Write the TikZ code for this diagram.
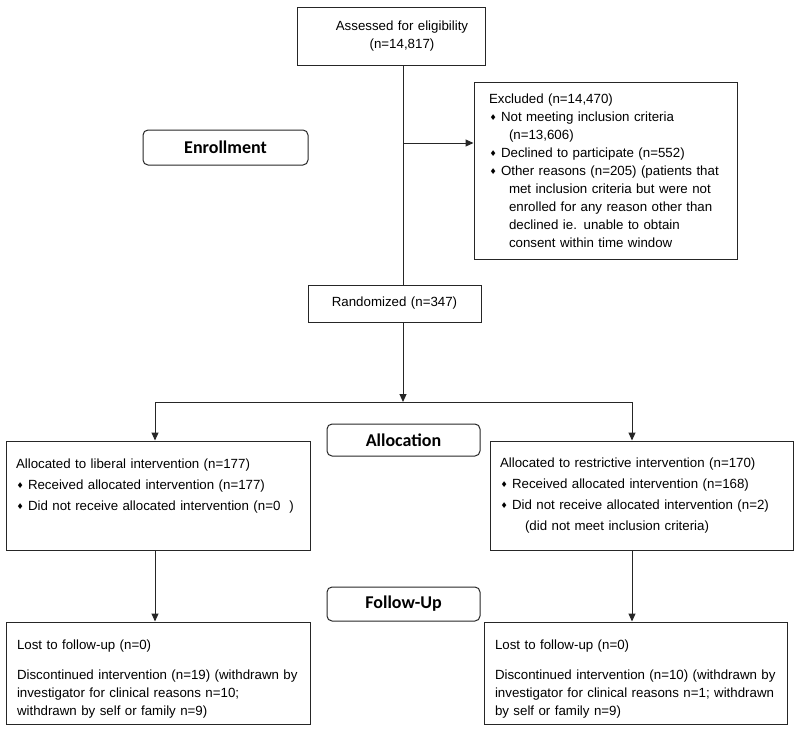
\documentclass[tikz,border=0pt]{standalone}
\usepackage{fontspec}
\setmainfont{Liberation Sans}
\newfontfamily\phasefont{Carlito}
\newfontfamily\symfont{DejaVu Sans}
\usetikzlibrary{arrows.meta}

\newcommand{\bul}{\raisebox{1.2pt}{\symfont\fontsize{8}{8}\selectfont ♦}}
\newcommand{\itm}{\makebox[12pt][l]{\hspace{0.5pt}\bul}}

\begin{document}
\begin{tikzpicture}[x=1pt, y=-1pt,
    box/.style={draw=black!85, line width=1pt, inner sep=0pt, align=left,
        font=\fontsize{13.3}{18}\selectfont},
    pad/.style={execute at begin node={\leftskip=#1}},
    mid/.style={execute at begin node={\leftskip=#1 plus 1fil\rightskip=0pt plus 1fil\parfillskip=0pt}},
    phase/.style={draw=black!85, line width=1pt, rounded corners=5pt, inner sep=0pt,
        font=\phasefont\bfseries\fontsize{18}{20}\selectfont},
    line/.style={draw=black!85, line width=1pt},
    arr/.style={line, -{Triangle[length=8pt, width=7pt]}}]

    \useasboundingbox (0,0) rectangle (800,731);

    %boxes
    \node[box, text width=188pt, minimum height=58pt, mid=22pt]
        (assess) at (391,36) {Assessed for eligibility\\(n=14,817)};
    \node[box, text width=263pt, minimum height=177pt, pad=15pt] (excl) at (605.5,170.5)
        {Excluded (n=14,470)\\
         \itm Not meeting inclusion criteria\\
         \hspace*{20pt}(n=13,606)\\
         \itm Declined to participate (n=552)\\
         \itm Other reasons (n=205) (patients that\\
         \hspace*{20pt}met inclusion criteria but were not\\
         \hspace*{20pt}enrolled for any reason other than\\
         \hspace*{20pt}declined ie. unable to obtain\\
         \hspace*{20pt}consent within time window};
    \node[box, text width=173pt, minimum height=37pt, mid=0pt] (rand) at (394.5,303.5)
        {Randomized (n=347)};

    \node[box, text width=304pt, minimum height=109pt, pad=10pt] (libA) at (158,495.5)
        {Allocated to liberal intervention (n=177)\\[3pt]
         \itm Received allocated intervention (n=177)\\[3pt]
         \itm Did not receive allocated intervention (n=0\ \ )\\[3pt]
         \mbox{}};
    \node[box, text width=303pt, minimum height=109pt, pad=10pt] (resA) at (641.5,495.5)
        {Allocated to restrictive intervention (n=170)\\[3pt]
         \itm Received allocated intervention (n=168)\\[3pt]
         \itm Did not receive allocated intervention (n=2)\\[3pt]
         \hspace*{25pt}(did not meet inclusion criteria)};

    \node[box, text width=304pt, minimum height=102pt, pad=11pt] (fupL) at (158,673)
        {\rule{0pt}{22pt}Lost to follow-up (n=0)\\[12pt]
         Discontinued intervention (n=19) (withdrawn by\\
         investigator for clinical reasons n=10;\\
         withdrawn by self or family n=9)};
    \node[box, text width=303pt, minimum height=102pt, pad=11pt] (fupR) at (635.5,673)
        {\rule{0pt}{22pt}Lost to follow-up (n=0)\\[12pt]
         Discontinued intervention (n=10) (withdrawn by\\
         investigator for clinical reasons n=1; withdrawn\\
         by self or family n=9)};

    %phase labels
    \node[phase, minimum width=165pt, minimum height=35pt] (enrol) at (225.5,147.5) {Enrollment};
    \node[phase, minimum width=153pt, minimum height=32pt] (alloc) at (403.5,440) {Allocation};
    \node[phase, minimum width=153pt, minimum height=34pt] (follow) at (403.5,604) {Follow-Up};

    %lines
    \coordinate (spine) at (403,0);
    \coordinate (exclin) at (403,143);
    \coordinate (split) at (403,402);
    \coordinate (lsplit) at (155,402);
    \coordinate (rsplit) at (632,402);

    \draw[line] (spine |- assess.south) -- (spine |- rand.north);
    \draw[arr] (exclin) -- (exclin -| excl.west);
    \draw[arr] (spine |- rand.south) -- (split);
    \draw[line] (lsplit) -- (rsplit);
    \draw[arr] (lsplit) -- (lsplit |- libA.north);
    \draw[arr] (rsplit) -- (rsplit |- resA.north);
    \draw[arr] (lsplit |- libA.south) -- (lsplit |- fupL.north);
    \draw[arr] (rsplit |- resA.south) -- (rsplit |- fupR.north);

\end{tikzpicture}
\end{document}
